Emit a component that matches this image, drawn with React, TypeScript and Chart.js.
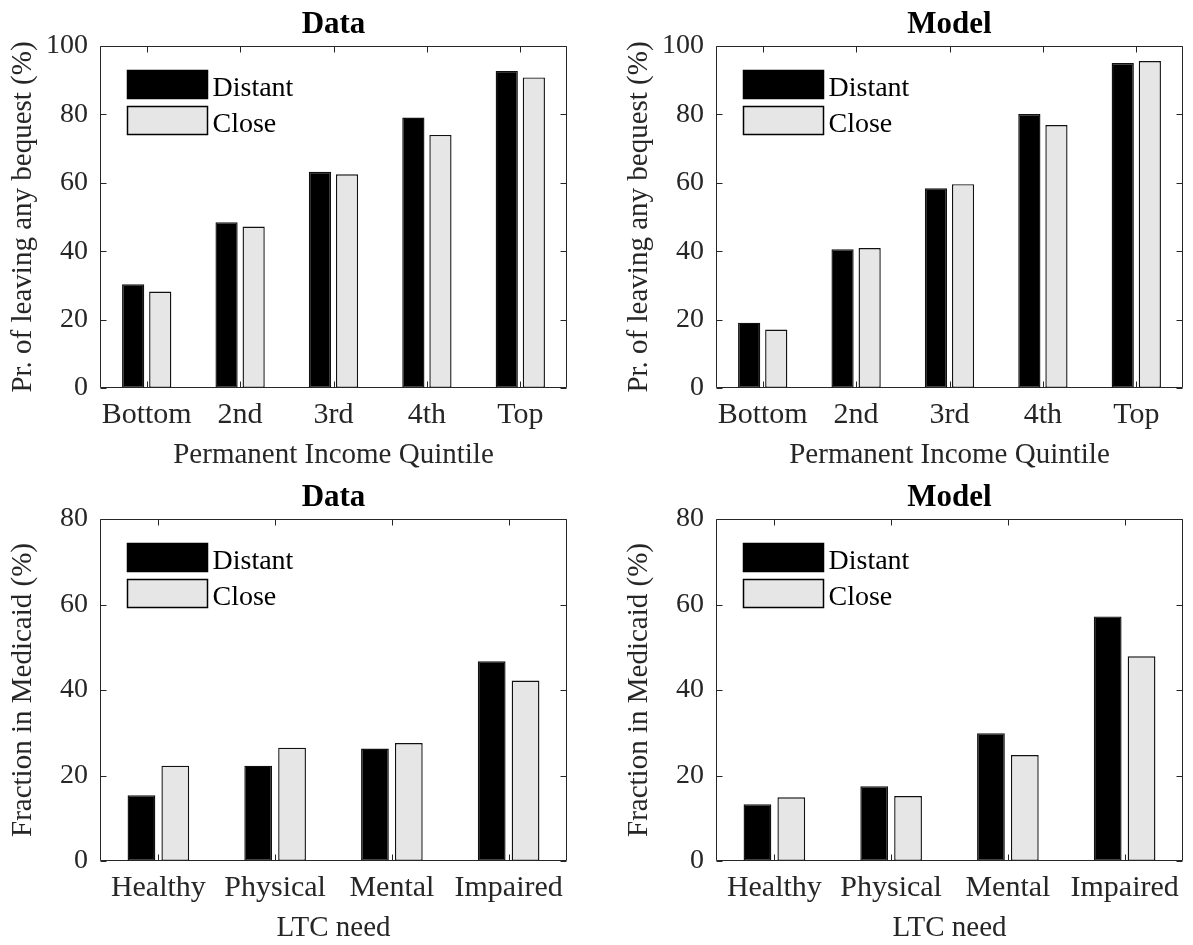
import React, { useEffect, useRef } from 'react';
import { Chart, registerables } from 'chart.js';

Chart.register(...registerables);

// ---------- data ----------
const seriesNames = ['Distant', 'Close'];
const incomeCategories = ['Bottom', '2nd', '3rd', '4th', 'Top'];
const bequestDataDistant = [30.3, 48.5, 63.2, 79.1, 92.7];
const bequestDataClose = [28.2, 47.2, 62.5, 74.0, 90.8];
const bequestModelDistant = [19.1, 40.6, 58.4, 80.1, 95.0];
const bequestModelClose = [17.1, 40.9, 59.6, 76.9, 95.6];

const ltcCategories = ['Healthy', 'Physical', 'Mental', 'Impaired'];
const medicaidDataDistant = [15.4, 22.3, 26.3, 46.7];
const medicaidDataClose = [22.3, 26.5, 27.6, 42.2];
const medicaidModelDistant = [13.3, 17.5, 29.9, 57.2];
const medicaidModelClose = [14.9, 15.2, 24.8, 47.9];

const bequestYMax = 100;
const medicaidYMax = 80;
const yStep = 20;

const SERIF = '"Liberation Serif", "Times New Roman", serif';
const AXIS_COLOR = '#262626';
const DISTANT_COLOR = '#000000';
const CLOSE_COLOR = '#e6e6e6';

const decorPlugin = {
  id: 'decor',
  afterDraw(chart: any, _args: any, opts: any) {
    const { ctx, chartArea: a, scales } = chart;
    ctx.save();
    // box
    ctx.strokeStyle = AXIS_COLOR;
    ctx.lineWidth = 1;
    const L = Math.round(a.left) + 0.5;
    const R = Math.round(a.right) - 0.5;
    const T = Math.round(a.top) + 0.5;
    const B = Math.round(a.bottom) - 0.5;
    ctx.beginPath();
    ctx.rect(L, T, R - L, B - T);
    ctx.stroke();
    // inner ticks
    const tl = 6;
    ctx.beginPath();
    scales.y.ticks.forEach((_t: any, i: number) => {
      const y = Math.round(scales.y.getPixelForTick(i)) + 0.5;
      ctx.moveTo(L, y);
      ctx.lineTo(L + tl, y);
      ctx.moveTo(R, y);
      ctx.lineTo(R - tl, y);
    });
    scales.x.ticks.forEach((_t: any, i: number) => {
      const x = Math.round(scales.x.getPixelForTick(i)) + 0.5;
      ctx.moveTo(x, T);
      ctx.lineTo(x, T + tl);
      ctx.moveTo(x, B);
      ctx.lineTo(x, B - tl);
    });
    ctx.stroke();
    // title
    ctx.fillStyle = '#000';
    ctx.font = `bold 31px ${SERIF}`;
    ctx.textAlign = 'center';
    ctx.textBaseline = 'alphabetic';
    ctx.fillText(opts.title, (a.left + a.right) / 2, a.top - 13.5);
    // legend
    ctx.font = `28px ${SERIF}`;
    ctx.textAlign = 'left';
    const sx = a.left + 27.5;
    chart.data.datasets.forEach((ds: any, i: number) => {
      const sy = a.top + 24.5 + i * 36;
      ctx.fillStyle = ds.backgroundColor;
      ctx.fillRect(sx, sy, 80, 28);
      ctx.lineWidth = 1.5;
      ctx.strokeStyle = '#000';
      ctx.strokeRect(sx, sy, 80, 28);
      ctx.fillStyle = '#000';
      ctx.fillText(ds.label, sx + 85, sy + 25);
    });
    ctx.restore();
  },
};

type PanelProps = {
  title: string;
  categories: string[];
  distant: number[];
  close: number[];
  yMax: number;
  yLabel: string;
  xLabel: string;
  left: number;
  top: number;
  width: number;
  height: number;
};

function Panel(p: PanelProps) {
  const ref = useRef<HTMLCanvasElement | null>(null);
  useEffect(() => {
    if (!ref.current) return;
    const barStyle = {
      borderWidth: 1.4,
      borderColor: '#111111',
      borderSkipped: false,
      categoryPercentage: 0.58,
      barPercentage: 0.82,
    };
    const chart = new Chart(ref.current, {
      type: 'bar',
      data: {
        labels: p.categories,
        datasets: [
          { label: seriesNames[0], data: p.distant, backgroundColor: DISTANT_COLOR, ...barStyle },
          { label: seriesNames[1], data: p.close, backgroundColor: CLOSE_COLOR, ...barStyle },
        ],
      },
      options: {
        responsive: false,
        animation: false,
        devicePixelRatio: 1,
        layout: { padding: { top: 46, left: 0, right: p.width - 567, bottom: 0 } },
        plugins: {
          legend: { display: false },
          tooltip: { enabled: false },
          title: { display: false },
          decor: { title: p.title },
        } as any,
        scales: {
          x: {
            type: 'category',
            offset: true,
            grid: { display: false, drawTicks: false },
            border: { display: false },
            ticks: {
              font: { family: SERIF, size: 30, lineHeight: 1.2 },
              color: AXIS_COLOR,
              padding: 9,
              maxRotation: 0,
              autoSkip: false,
            },
            title: {
              display: true,
              text: p.xLabel,
              font: { family: SERIF, size: 29, lineHeight: 1 },
              color: AXIS_COLOR,
              padding: { top: 0, bottom: 2.5 },
            },
            afterFit: (s: any) => {
              s.height = 84;
            },
          },
          y: {
            type: 'linear',
            min: 0,
            max: p.yMax,
            grid: { display: false, drawTicks: false },
            border: { display: false },
            ticks: {
              stepSize: yStep,
              font: { family: SERIF, size: 28 },
              color: AXIS_COLOR,
              padding: 12,
            },
            title: {
              display: true,
              text: p.yLabel,
              font: { family: SERIF, size: 29, lineHeight: 1 },
              color: AXIS_COLOR,
              padding: { top: 8.5, bottom: 0 },
            },
            afterFit: (s: any) => {
              s.width = 100;
            },
          },
        } as any,
      },
      plugins: [decorPlugin],
    });
    return () => chart.destroy();
  }, []);
  return (
    <canvas
      ref={ref}
      width={p.width}
      height={p.height}
      style={{ position: 'absolute', left: p.left, top: p.top, width: p.width, height: p.height }}
    />
  );
}

export default function App() {
  return (
    <div style={{ position: 'absolute', left: 0, top: 0, width: 1193, height: 945, background: '#fff' }}>
      <Panel
        title="Data"
        categories={incomeCategories}
        distant={bequestDataDistant}
        close={bequestDataClose}
        yMax={bequestYMax}
        yLabel="Pr. of leaving any bequest (%)"
        xLabel="Permanent Income Quintile"
        left={0}
        top={0}
        width={596}
        height={472}
      />
      <Panel
        title="Model"
        categories={incomeCategories}
        distant={bequestModelDistant}
        close={bequestModelClose}
        yMax={bequestYMax}
        yLabel="Pr. of leaving any bequest (%)"
        xLabel="Permanent Income Quintile"
        left={616}
        top={0}
        width={577}
        height={472}
      />
      <Panel
        title="Data"
        categories={ltcCategories}
        distant={medicaidDataDistant}
        close={medicaidDataClose}
        yMax={medicaidYMax}
        yLabel="Fraction in Medicaid (%)"
        xLabel="LTC need"
        left={0}
        top={473}
        width={596}
        height={472}
      />
      <Panel
        title="Model"
        categories={ltcCategories}
        distant={medicaidModelDistant}
        close={medicaidModelClose}
        yMax={medicaidYMax}
        yLabel="Fraction in Medicaid (%)"
        xLabel="LTC need"
        left={616}
        top={473}
        width={577}
        height={472}
      />
    </div>
  );
}
